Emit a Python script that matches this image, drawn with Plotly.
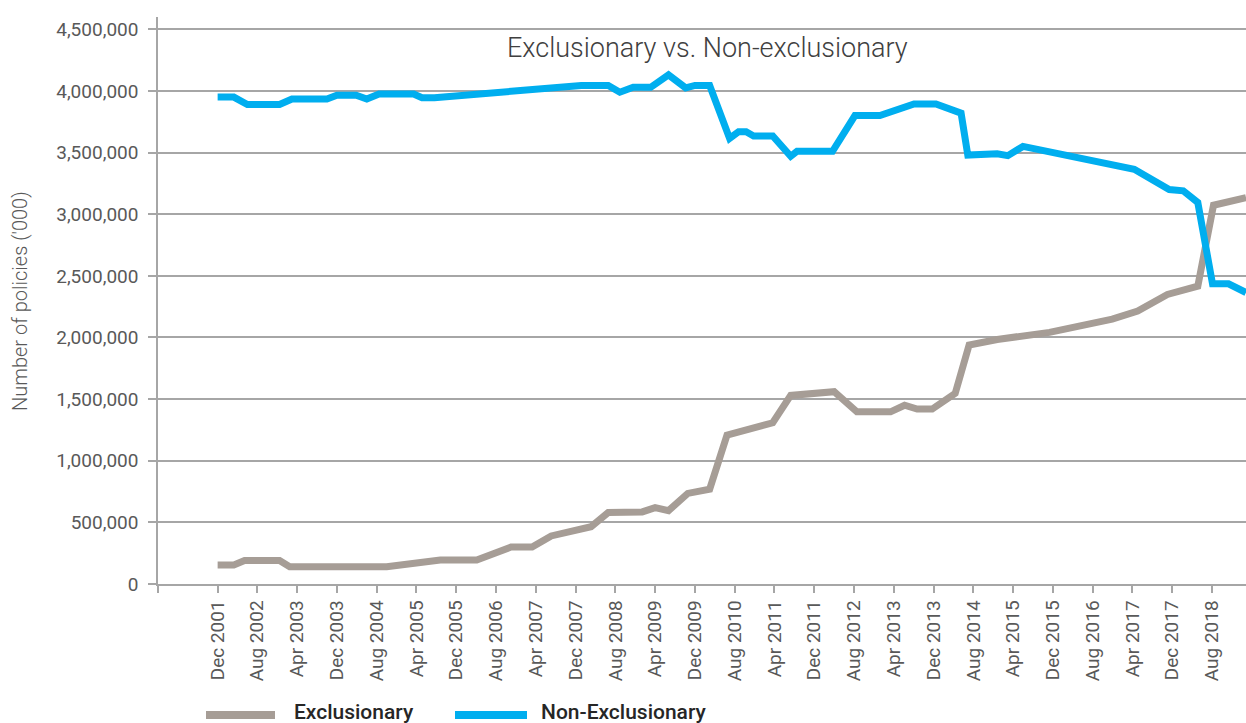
import plotly.graph_objects as go

# ---- data ----
nonexcl_dates = ["2001-12-01", "2002-03-10", "2002-06-01", "2002-12-15", "2003-03-01", "2003-10-01",
                 "2003-12-01", "2004-03-28", "2004-06-01", "2004-08-15", "2005-03-15", "2005-05-05",
                 "2005-07-20", "2008-01-05", "2008-06-18", "2008-08-28", "2008-11-18", "2009-03-05",
                 "2009-06-22", "2009-10-05", "2009-12-01", "2010-03-01", "2010-07-01", "2010-08-25",
                 "2010-10-10", "2010-11-25", "2011-03-22", "2011-07-10", "2011-08-18", "2012-03-22",
                 "2012-08-06", "2013-01-06", "2013-08-03", "2013-12-15", "2014-05-18", "2014-06-28",
                 "2014-12-25", "2015-02-28", "2015-06-01", "2017-04-12", "2017-11-12", "2018-02-06",
                 "2018-05-06", "2018-08-04", "2018-11-10", "2019-02-25"]
nonexcl_values = [3950000, 3950000, 3890000, 3890000, 3935000, 3935000,
                  3965000, 3965000, 3935000, 3975000, 3975000, 3945000,
                  3945000, 4045000, 4045000, 3990000, 4030000, 4030000,
                  4130000, 4025000, 4045000, 4045000, 3615000, 3670000,
                  3670000, 3635000, 3635000, 3470000, 3510000, 3510000,
                  3800000, 3800000, 3895000, 3895000, 3820000, 3480000,
                  3490000, 3475000, 3550000, 3365000, 3200000, 3190000,
                  3095000, 2435000, 2435000, 2365000]

excl_dates = ["2001-12-01", "2002-03-10", "2002-05-15", "2002-12-15", "2003-02-15", "2004-10-01",
              "2005-08-25", "2006-04-05", "2006-11-01", "2007-03-10", "2007-07-05", "2007-11-01",
              "2008-03-05", "2008-06-18", "2009-01-12", "2009-04-01", "2009-06-22", "2009-10-18",
              "2010-03-01", "2010-06-15", "2011-03-22", "2011-07-10", "2012-04-01", "2012-08-18",
              "2013-03-12", "2013-06-06", "2013-08-22", "2013-11-22", "2014-04-12", "2014-07-06",
              "2014-12-25", "2015-11-10", "2016-11-28", "2017-05-03", "2017-11-01", "2018-05-06",
              "2018-08-10", "2019-02-25"]
excl_values = [155000, 155000, 190000, 190000, 140000, 140000,
               195000, 195000, 300000, 300000, 390000, 420000,
               465000, 580000, 585000, 620000, 595000, 735000,
               770000, 1208000, 1308000, 1530000, 1560000, 1397000,
               1397000, 1450000, 1419000, 1419000, 1546000, 1938000,
               1984000, 2041000, 2149000, 2214000, 2349000, 2416000,
               3073000, 3135000]

tick_dates = ["2000-12-01", "2001-12-01", "2002-08-01", "2003-04-01", "2003-12-01", "2004-08-01",
              "2005-04-01", "2005-12-01", "2006-08-01", "2007-04-01", "2007-12-01", "2008-08-01",
              "2009-04-01", "2009-12-01", "2010-08-01", "2011-04-01", "2011-12-01", "2012-08-01",
              "2013-04-01", "2013-12-01", "2014-08-01", "2015-04-01", "2015-12-01", "2016-08-01",
              "2017-04-01", "2017-12-01", "2018-08-01"]
tick_labels = ["", "Dec 2001", "Aug 2002", "Apr 2003", "Dec 2003", "Aug 2004",
               "Apr 2005", "Dec 2005", "Aug 2006", "Apr 2007", "Dec 2007", "Aug 2008",
               "Apr 2009", "Dec 2009", "Aug 2010", "Apr 2011", "Dec 2011", "Aug 2012",
               "Apr 2013", "Dec 2013", "Aug 2014", "Apr 2015", "Dec 2015", "Aug 2016",
               "Apr 2017", "Dec 2017", "Aug 2018"]
y_ticks = [0, 500000, 1000000, 1500000, 2000000, 2500000, 3000000, 3500000, 4000000, 4500000]

GRAY = "#A69D96"
BLUE = "#00AEEF"
GRID = "#A6A6A6"
FONT = "Roboto"

fig = go.Figure()
fig.add_trace(go.Scatter(x=excl_dates, y=excl_values, mode="lines", name="Exclusionary",
                         line=dict(color=GRAY, width=7), showlegend=False))
fig.add_trace(go.Scatter(x=nonexcl_dates, y=nonexcl_values, mode="lines", name="Non-Exclusionary",
                         line=dict(color=BLUE, width=7), showlegend=False))

W, H = 1246, 723
L, R, T, B = 158, 0, 17, 139
pw, ph = W - L - R, H - T - B

def px(x):
    return (x - L) / pw

def py(y):
    return (H - B - y) / ph

fig.update_layout(
    width=W, height=H,
    margin=dict(l=L, r=R, t=T, b=B, pad=0),
    paper_bgcolor="white", plot_bgcolor="white",
    font=dict(family=FONT, color="#595959"),
    xaxis=dict(type="date", range=["2000-12-01", "2019-02-25"],
               tickmode="array", tickvals=tick_dates, ticktext=tick_labels,
               tickangle=-90, ticks="outside", ticklen=7, tickcolor=GRID, tickwidth=1.5,
               showline=True, linecolor=GRID, linewidth=1.5, showgrid=False,
               tickfont=dict(family=FONT, size=19, color="#595959"), zeroline=False),
    yaxis=dict(range=[0, 4600000], tickmode="array", tickvals=y_ticks,
               tickformat=",d", ticks="outside", ticklen=8, tickcolor=GRID, tickwidth=1.5,
               showline=True, linecolor=GRID, linewidth=1.5,
               showgrid=True, gridcolor=GRID, gridwidth=1.5, zeroline=False,
               tickfont=dict(family=FONT, size=19, color="#595959"), ticklabelstandoff=6),
)

annotations = [
    dict(text="Exclusionary vs. Non-exclusionary", xref="paper", yref="paper",
         x=px(707), y=py(48), xanchor="center", yanchor="middle", showarrow=False,
         font=dict(family=FONT, size=27, color="#404040", weight=300)),
    dict(text="Number of policies ('000)", xref="paper", yref="paper",
         x=px(20), y=py(301), xanchor="center", yanchor="middle", showarrow=False,
         textangle=-90, font=dict(family=FONT, size=20, color="#595959", weight=300)),
    dict(text="Exclusionary", xref="paper", yref="paper",
         x=px(292), y=py(712), xanchor="left", yanchor="middle", showarrow=False,
         font=dict(family=FONT, size=21, color="#262626", weight=500)),
    dict(text="Non-Exclusionary", xref="paper", yref="paper",
         x=px(539), y=py(712), xanchor="left", yanchor="middle", showarrow=False,
         font=dict(family=FONT, size=21, color="#262626", weight=500)),
]
fig.update_layout(annotations=annotations)

shapes = [
    dict(type="line", xref="paper", yref="paper", x0=px(206), x1=px(275), y0=py(715), y1=py(715),
         line=dict(color=GRAY, width=8)),
    dict(type="line", xref="paper", yref="paper", x0=px(455), x1=px(527), y0=py(715), y1=py(715),
         line=dict(color=BLUE, width=8)),
]
fig.update_layout(shapes=shapes)

fig.write_html("out.html")
